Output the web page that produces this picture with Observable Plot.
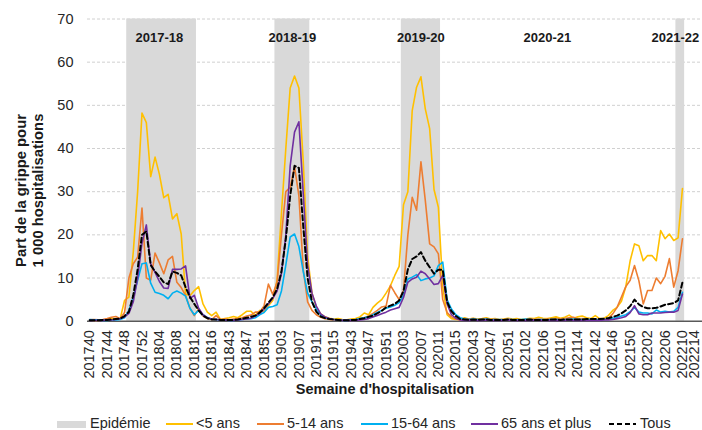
<!DOCTYPE html>
<html>
<head>
<meta charset="utf-8">
<script src="https://cdn.jsdelivr.net/npm/d3@7"></script>
<script src="https://cdn.jsdelivr.net/npm/@observablehq/plot@0.6"></script>
<style>
  html, body { margin: 0; padding: 0; background: #fff; }
  body { font-family: "Liberation Sans", Arial, sans-serif; color: #262626; }
  #chart svg { display: block; }
  #legend { position: relative; width: 702px; height: 20px; font-size: 14.5px; }
  #legend .sw { position: absolute; top: 0; }
  #legend .lb { position: absolute; top: 5px; line-height: 16px; white-space: nowrap; }
</style>
</head>
<body>
<div id="chart"></div>
<div id="legend"></div>
<script>
// ---------- categories: hospitalisation weeks (season = week 40 -> spring week) ----------
function seasonWeeks(year, lastWeekOfYear, endWeek) {
  const w = [];
  for (let k = 40; k <= lastWeekOfYear; k++) w.push(`${year}${String(k).padStart(2, "0")}`);
  for (let k = 1; k <= endWeek; k++) w.push(`${year + 1}${String(k).padStart(2, "0")}`);
  return w;
}
const weeks = [
  ...seasonWeeks(2017, 52, 16),
  ...seasonWeeks(2018, 52, 15),
  ...seasonWeeks(2019, 52, 15),
  ...seasonWeeks(2020, 53, 15),
  ...seasonWeeks(2021, 52, 14)
];

// ---------- series values (part de la grippe pour 1 000 hospitalisations) ----------
const under5 = [
  0.3,0.2,0.2,0.3,0.4,0.6,0.5,0.6,4.8,5.6,16,30,48.2,46,33.5,38,34,28.6,29.4,23.7,24.9,20.2,6.3,5.9,7.1,8.0,4.0,2.1,1.3,
  2.1,0.4,0.6,0.8,1.1,0.8,1.5,2.3,2.3,1.3,2.5,2.2,3.6,4.8,9.5,25,40,54,56.8,54,37,15,6.5,3.2,1.7,1.0,0.7,0.5,
  0.6,0.4,0.3,0.5,0.6,1.0,1.9,1.5,3.2,4.2,5.0,6.5,8.2,10.6,12.7,27,30,48.8,54.2,56.6,49.2,44.6,30.5,26.4,8,1.5,0.6,0.4,
  0.4,0.8,0.5,0.7,0.5,0.6,0.8,0.5,0.6,0.4,0.5,0.7,0.5,0.6,0.4,0.5,0.7,0.6,0.9,0.7,0.6,0.8,1.0,0.7,0.9,1.4,0.7,1.0,1.2,
  0.8,0.6,1.3,0.6,0.7,1.3,2.5,3.2,4.6,8,14,17.9,17.5,14,15.2,15.2,14,21,19.1,20.2,18.7,19.3,30.7
];
const age5to14 = [
  0.3,0.4,0.3,0.4,0.6,0.9,1.1,0.6,2.0,10,13.3,14.8,26.2,10,9.5,15.8,13.5,11,14.2,15,9,7.8,6,3,1.3,2.9,1.2,0.6,0.4,
  1.3,0.4,0.5,0.3,0.5,0.6,0.8,1.2,1.4,2.1,2.1,3.5,8.6,6.2,9,20,30,31,35.8,29,12,4.5,2.5,1.5,0.9,0.6,0.4,0.3,
  0.3,0.2,0.3,0.3,0.4,0.6,0.8,1.2,1.8,2.5,3.3,3.5,8.3,6.6,5.0,7.1,20,28.7,25.7,36.9,28,17.9,17.2,15.6,5,2,1,0.5,
  0.3,0.6,0.5,0.6,0.4,0.5,0.6,0.4,0.5,0.3,0.4,0.5,0.3,0.4,0.3,0.4,0.5,0.4,0.5,0.4,0.5,0.4,0.6,0.5,0.6,0.8,0.9,0.5,0.6,
  0.3,0.4,0.5,0.3,0.4,0.6,1.7,3.2,5.6,8.0,9.5,12.9,9.4,4.0,7.1,7.1,10,8.7,10.4,14.5,7.9,11.7,19.1
];
const age15to64 = [
  0.4,0.3,0.3,0.2,0.2,0.3,0.3,0.4,0.8,2.5,5.5,9.5,13.3,13.5,8.8,6.7,6.4,6.0,5.2,6.5,7.0,6.5,5.8,3,1.5,2.5,1.5,0.8,0.5,
  0.4,0.3,0.3,0.2,0.2,0.3,0.4,0.5,0.6,0.8,1.5,2.0,3.2,3.4,3.8,7,13,19.5,20.2,17.3,11.5,6.5,4.5,2.8,1.5,0.8,0.5,0.4,
  0.3,0.2,0.2,0.3,0.4,0.6,0.8,1.0,1.5,2.0,2.5,3.0,3.3,3.7,4.3,6,9.8,10.2,10.8,9.4,9.8,10,10.5,12.9,13.7,5,2.8,1.5,
  0.8,0.5,0.4,0.5,0.4,0.4,0.5,0.3,0.4,0.4,0.3,0.4,0.4,0.3,0.4,0.5,0.4,0.3,0.4,0.4,0.3,0.4,0.4,0.3,0.4,0.4,0.5,0.4,0.4,
  0.4,0.4,0.3,0.4,0.4,0.5,0.7,0.9,1.2,1.5,2.2,3.2,2.1,1.9,1.9,1.7,2.6,2.1,2.3,2.1,2.3,3.2,6.7
];
const age65plus = [
  0.2,0.2,0.2,0.2,0.3,0.3,0.4,0.6,1.0,1.8,4.5,10,18,22.3,13.3,11.3,9.2,7.7,7.6,12,12,12.1,12.8,5.3,6.0,3.0,1.5,0.8,0.5,
  0.4,0.3,0.3,0.2,0.2,0.3,0.4,0.5,0.7,1.2,1.8,2.8,4.0,5.3,7,11,20,36,43.8,46.2,29.5,13,6.5,3.5,1.7,1.0,0.6,0.4,
  0.3,0.2,0.2,0.2,0.2,0.3,0.4,0.6,1.0,1.3,1.7,2.1,2.6,2.9,3.2,5.5,9,9.8,10.2,11.6,11,9.8,8.5,8.7,10.6,4,1.5,0.7,
  0.3,0.2,0.2,0.3,0.2,0.2,0.3,0.2,0.2,0.2,0.2,0.3,0.2,0.2,0.2,0.2,0.2,0.3,0.2,0.2,0.2,0.2,0.2,0.2,0.2,0.3,0.2,0.2,0.2,
  0.2,0.2,0.2,0.2,0.3,0.3,0.4,0.6,0.8,1.1,2.0,3.6,1.7,1.5,1.5,1.9,1.9,1.9,2.0,2.1,2.1,2.5,6.3
];
const allAges = [
  0.2,0.2,0.2,0.3,0.3,0.4,0.5,0.6,1.2,2.2,6,12,20,20.8,13,11.5,10.3,9,8.6,11.5,11.2,10.6,7.9,5.6,4,2.5,1.3,0.7,0.4,
  0.4,0.3,0.3,0.3,0.3,0.4,0.6,0.8,1.0,1.3,2,3,4.3,5.5,7.5,11.5,19,29,36,35.5,22,10,4.5,2.2,1.1,0.7,0.5,0.4,
  0.3,0.2,0.2,0.3,0.3,0.5,0.7,1.0,1.3,1.8,2.4,3.2,3.6,4.0,4.8,7,12,14.4,15,16,14,12.5,11,11.9,11.9,4.5,2.3,1.2,
  0.5,0.4,0.3,0.4,0.3,0.4,0.4,0.3,0.3,0.3,0.3,0.4,0.3,0.3,0.3,0.3,0.4,0.3,0.3,0.3,0.3,0.4,0.4,0.3,0.4,0.4,0.4,0.4,0.4,
  0.5,0.5,0.5,0.5,0.6,0.7,1.0,1.3,1.8,2.5,3.5,5.0,3.9,3.3,3.0,3.0,3.1,3.4,3.8,4.0,4.2,4.8,9.0
];

// ---------- epidemic periods (first and last epidemic week) ----------
const epidemicStart = ["201749", "201902", "202003", "202209"];
const epidemicEnd   = ["201812", "201909", "202011", "202210"];

// ---------- season labels ----------
const seasonNames = ["2017-18", "2018-19", "2019-20", "2020-21", "2021-22"];

// ---------- tick labels ----------
const yTicks = [0, 10, 20, 30, 40, 50, 60, 70];
const xTickIdx = d3.range(0, weeks.length, 4);

// ---------- presentation (kept apart from the data) ----------
const seriesNames = ["<5 ans", "5-14 ans", "15-64 ans", "65 ans et plus", "Tous"];
const seriesValues = [under5, age5to14, age15to64, age65plus, allAges];
const seriesStyle = {
  "<5 ans":         {stroke: "#FFC000", width: 1.6},
  "5-14 ans":       {stroke: "#ED7D31", width: 1.6},
  "15-64 ans":      {stroke: "#00B0F0", width: 1.6},
  "65 ans et plus": {stroke: "#7030A0", width: 1.6},
  "Tous":           {stroke: "#000000", width: 2, dash: "5,3"}
};
const shadeColor = "#D9D9D9";
const seasonLabelAt = [16, 46.5, 76, 105, 134.4]; // anchor in week-index units

const idx = w => weeks.indexOf(w);
const epidemics = epidemicStart.map((s, k) => ({start: idx(s), end: idx(epidemicEnd[k])}));
const seasonLabels = seasonNames.map((name, k) => ({name, at: seasonLabelAt[k]}));

const font = "Liberation Sans, Arial, sans-serif";
const lastTick = xTickIdx[xTickIdx.length - 1];
const xAxisOpts = {
  tickFormat: i => weeks[i], tickRotate: -90, tickSize: 0, tickPadding: 9,
  label: null, fontSize: 14.5, textAnchor: "end", lineAnchor: "middle"
};

const chart = Plot.plot({
  width: 702,
  height: 410,
  marginLeft: 87,
  marginRight: 0,
  marginTop: 18.5,
  marginBottom: 89.3,
  style: {fontFamily: font, fontSize: "14.5px", color: "#262626", background: "#fff"},
  x: {type: "linear", domain: [-0.5, 140.6]},
  y: {domain: [0, 70]},
  marks: [
    Plot.gridY(yTicks.filter(v => v > 0), {stroke: "#D0D0D0", strokeOpacity: 1, strokeDasharray: "3,2", strokeWidth: 1}),
    Plot.rect(epidemics, {x1: d => d.start - 0.5, x2: d => d.end + 0.5, fill: shadeColor}),
    Plot.ruleY([0], {stroke: "#595959", strokeWidth: 1.5}),
    ...seriesNames.map((name, k) => Plot.line(seriesValues[k], {
      x: (d, i) => i,
      y: d => d,
      stroke: seriesStyle[name].stroke,
      strokeWidth: seriesStyle[name].width,
      strokeDasharray: seriesStyle[name].dash,
      strokeLinejoin: "round"
    })),
    Plot.text(seasonLabels, {
      x: "at", text: "name", frameAnchor: "top", dy: 18.5, lineAnchor: "middle",
      fontWeight: "bold", fontSize: 13, fill: "#1a1a1a"
    }),
    Plot.axisY({ticks: yTicks, tickSize: 0, tickPadding: 14, label: null, fontSize: 14.5}),
    Plot.axisX({ticks: xTickIdx.filter(t => t !== lastTick), ...xAxisOpts}),
    // last tick label nudged left so that it stays inside the picture
    Plot.axisX({ticks: [lastTick], ...xAxisOpts, dx: -6}),
    Plot.text(["Part de la grippe pour\n1 000 hospitalisations"], {
      frameAnchor: "left", rotate: -90, dx: -58, dy: 20.4, lineAnchor: "middle", textAnchor: "middle",
      lineHeight: 1.15, fontWeight: "bold", fontSize: 14.8, fill: "#1a1a1a"
    }),
    Plot.text(["Semaine d'hospitalisation"], {
      frameAnchor: "bottom", dx: -10, dy: 68, lineAnchor: "middle",
      fontWeight: "bold", fontSize: 14.5, fill: "#1a1a1a"
    })
  ]
});
document.getElementById("chart").appendChild(chart);

// ---------- legend (below the SVG) ----------
const legendLayout = [
  {label: "Epidémie", sw: 57, tx: 90},
  {label: "<5 ans", sw: 166, tx: 196},
  {label: "5-14 ans", sw: 257, tx: 287},
  {label: "15-64 ans", sw: 361, tx: 391},
  {label: "65 ans et plus", sw: 471, tx: 501},
  {label: "Tous", sw: 609, tx: 640}
];
const legend = d3.select("#legend");
legendLayout.forEach(item => {
  const svg = legend.append("svg").attr("class", "sw")
    .style("left", item.sw + "px").attr("width", 30).attr("height", 20);
  if (item.label === "Epidémie") {
    svg.append("rect").attr("x", 0).attr("y", 11).attr("width", 29).attr("height", 7).attr("fill", shadeColor);
  } else {
    const st = seriesStyle[item.label];
    svg.append("line").attr("x1", 0).attr("x2", 27).attr("y1", 14).attr("y2", 14)
      .attr("stroke", st.stroke).attr("stroke-width", 2)
      .attr("stroke-dasharray", st.dash || null);
  }
  legend.append("span").attr("class", "lb").style("left", item.tx + "px").text(item.label);
});
</script>
</body>
</html>
